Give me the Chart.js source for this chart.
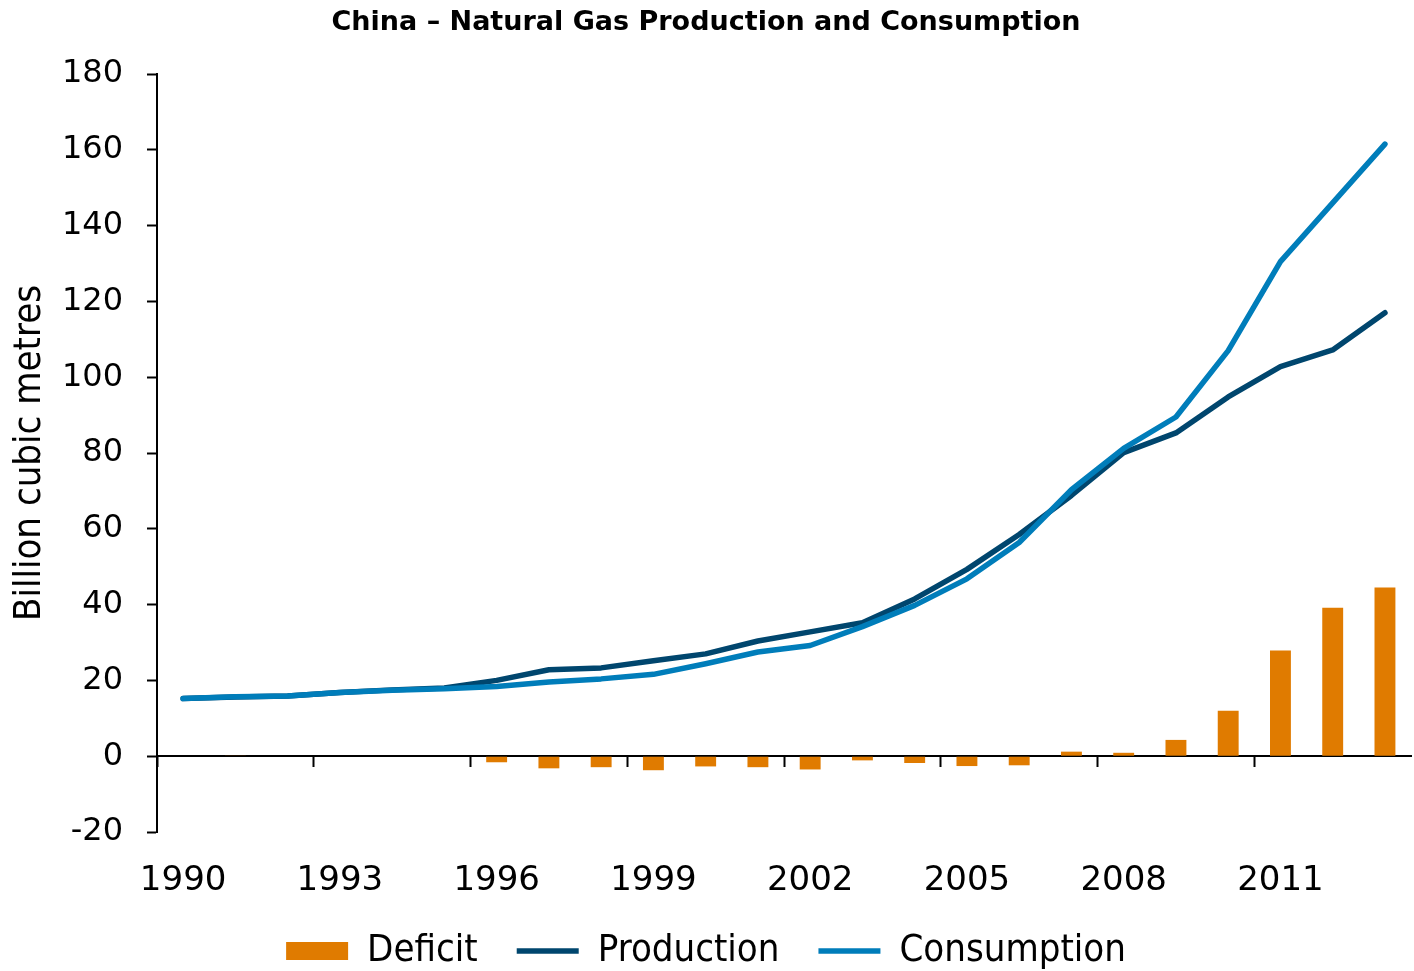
<!DOCTYPE html>
<html><head><meta charset="utf-8">
<script src="https://cdn.jsdelivr.net/npm/chart.js@4"></script>
<style>html,body{margin:0;padding:0;background:#fff}#wrap{width:1414px;height:971px;position:relative}</style>
</head><body><div id="wrap"><canvas id="c"></canvas></div>
<script>
const years = ['1990','1991','1992','1993','1994','1995','1996','1997','1998','1999','2000','2001','2002','2003','2004','2005','2006','2007','2008','2009','2010','2011','2012','2013'];
const production  = [15.2,15.6,15.9,16.8,17.5,18.0,20.0,22.8,23.3,25.2,27.0,30.4,32.8,35.2,41.5,49.3,58.5,68.8,80.1,85.3,94.8,102.8,107.2,117.0];
const consumption = [15.2,15.7,15.9,16.8,17.4,17.8,18.4,19.6,20.4,21.6,24.4,27.5,29.2,34.2,39.8,46.8,56.4,70.3,81.2,89.5,107.0,130.5,146.0,161.5];
const deficit     = [0,0.1,0,0,0,0,-1.6,-3.2,-2.9,-3.7,-2.7,-2.9,-3.5,-1.1,-1.8,-2.6,-2.4,1.2,0.9,4.3,12.0,27.9,39.2,44.5];
const yMin = -20, yMax = 180, yStep = 20;
const labelEvery = 3;

const yTickFont = {family:'DejaVu Sans', size:32};
const xTickFont = {family:'DejaVu Sans', size:34};
const condFont = {family:'DejaVu Sans Condensed', size:38};

new Chart(document.getElementById('c'), {
  data: {
    labels: years,
    datasets: [
      {type:'bar', label:'Deficit', data:deficit, backgroundColor:'#E07B00', borderWidth:0,
       barPercentage:0.4, categoryPercentage:1.0, order:3, pointStyle:'rect'},
      {type:'line', label:'Production', data:production, borderColor:'#00466E', backgroundColor:'#00466E',
       borderWidth:5.5, pointRadius:0, tension:0, borderJoinStyle:'round', borderCapStyle:'round', order:2, pointStyle:'line'},
      {type:'line', label:'Consumption', data:consumption, borderColor:'#007DBA', backgroundColor:'#007DBA',
       borderWidth:5.5, pointRadius:0, tension:0, borderJoinStyle:'round', borderCapStyle:'round', order:1, pointStyle:'line'}
    ]
  },
  options: {
    responsive:true, maintainAspectRatio:false, animation:false,
    layout:{padding:{left:0,right:2,top:0,bottom:-9}},
    plugins:{
      title:{display:true, text:'China – Natural Gas Production and Consumption', color:'#000',
        font:{family:'DejaVu Sans', size:27, weight:'bold'}, padding:{top:7,bottom:34.6}},
      legend:{position:'bottom', labels:{color:'#000', font:condFont, usePointStyle:true,
        pointStyleWidth:62, boxHeight:18, padding:39,
        sort:(a,b)=>a.datasetIndex-b.datasetIndex}},
      tooltip:{enabled:false}
    },
    scales:{
      x:{type:'category', axis:'x', position:{y:0}, offset:true,
        grid:{offset:true, drawOnChartArea:false, drawTicks:true, tickLength:10, tickWidth:2,
          tickColor:(ctx)=> (ctx.index!==undefined && ctx.index%labelEvery===0) ? '#000' : 'rgba(0,0,0,0)'},
        border:{display:true, color:'#000', width:2},
        ticks:{display:false, autoSkip:false}},
      x2:{type:'category', axis:'x', labels:years, position:'bottom', offset:true,
        grid:{display:false, drawTicks:false}, border:{display:false},
        ticks:{autoSkip:false, maxRotation:0, minRotation:0, padding:29, color:'#000', font:xTickFont,
          callback:(v,i)=> i%labelEvery===0 ? years[i] : ''},
        afterFit:(s)=>{s.height=61;}},
      y:{min:yMin, max:yMax,
        ticks:{stepSize:yStep, color:'#000', padding:24, font:yTickFont},
        grid:{drawOnChartArea:false, tickLength:10, tickWidth:2, tickColor:'#000'},
        border:{color:'#000', width:2},
        title:{display:true, text:'Billion cubic metres', color:'#000', font:condFont, padding:{top:7,bottom:0}},
        afterFit:(s)=>{s.width=157;}}
    }
  }
});
</script></body></html>
